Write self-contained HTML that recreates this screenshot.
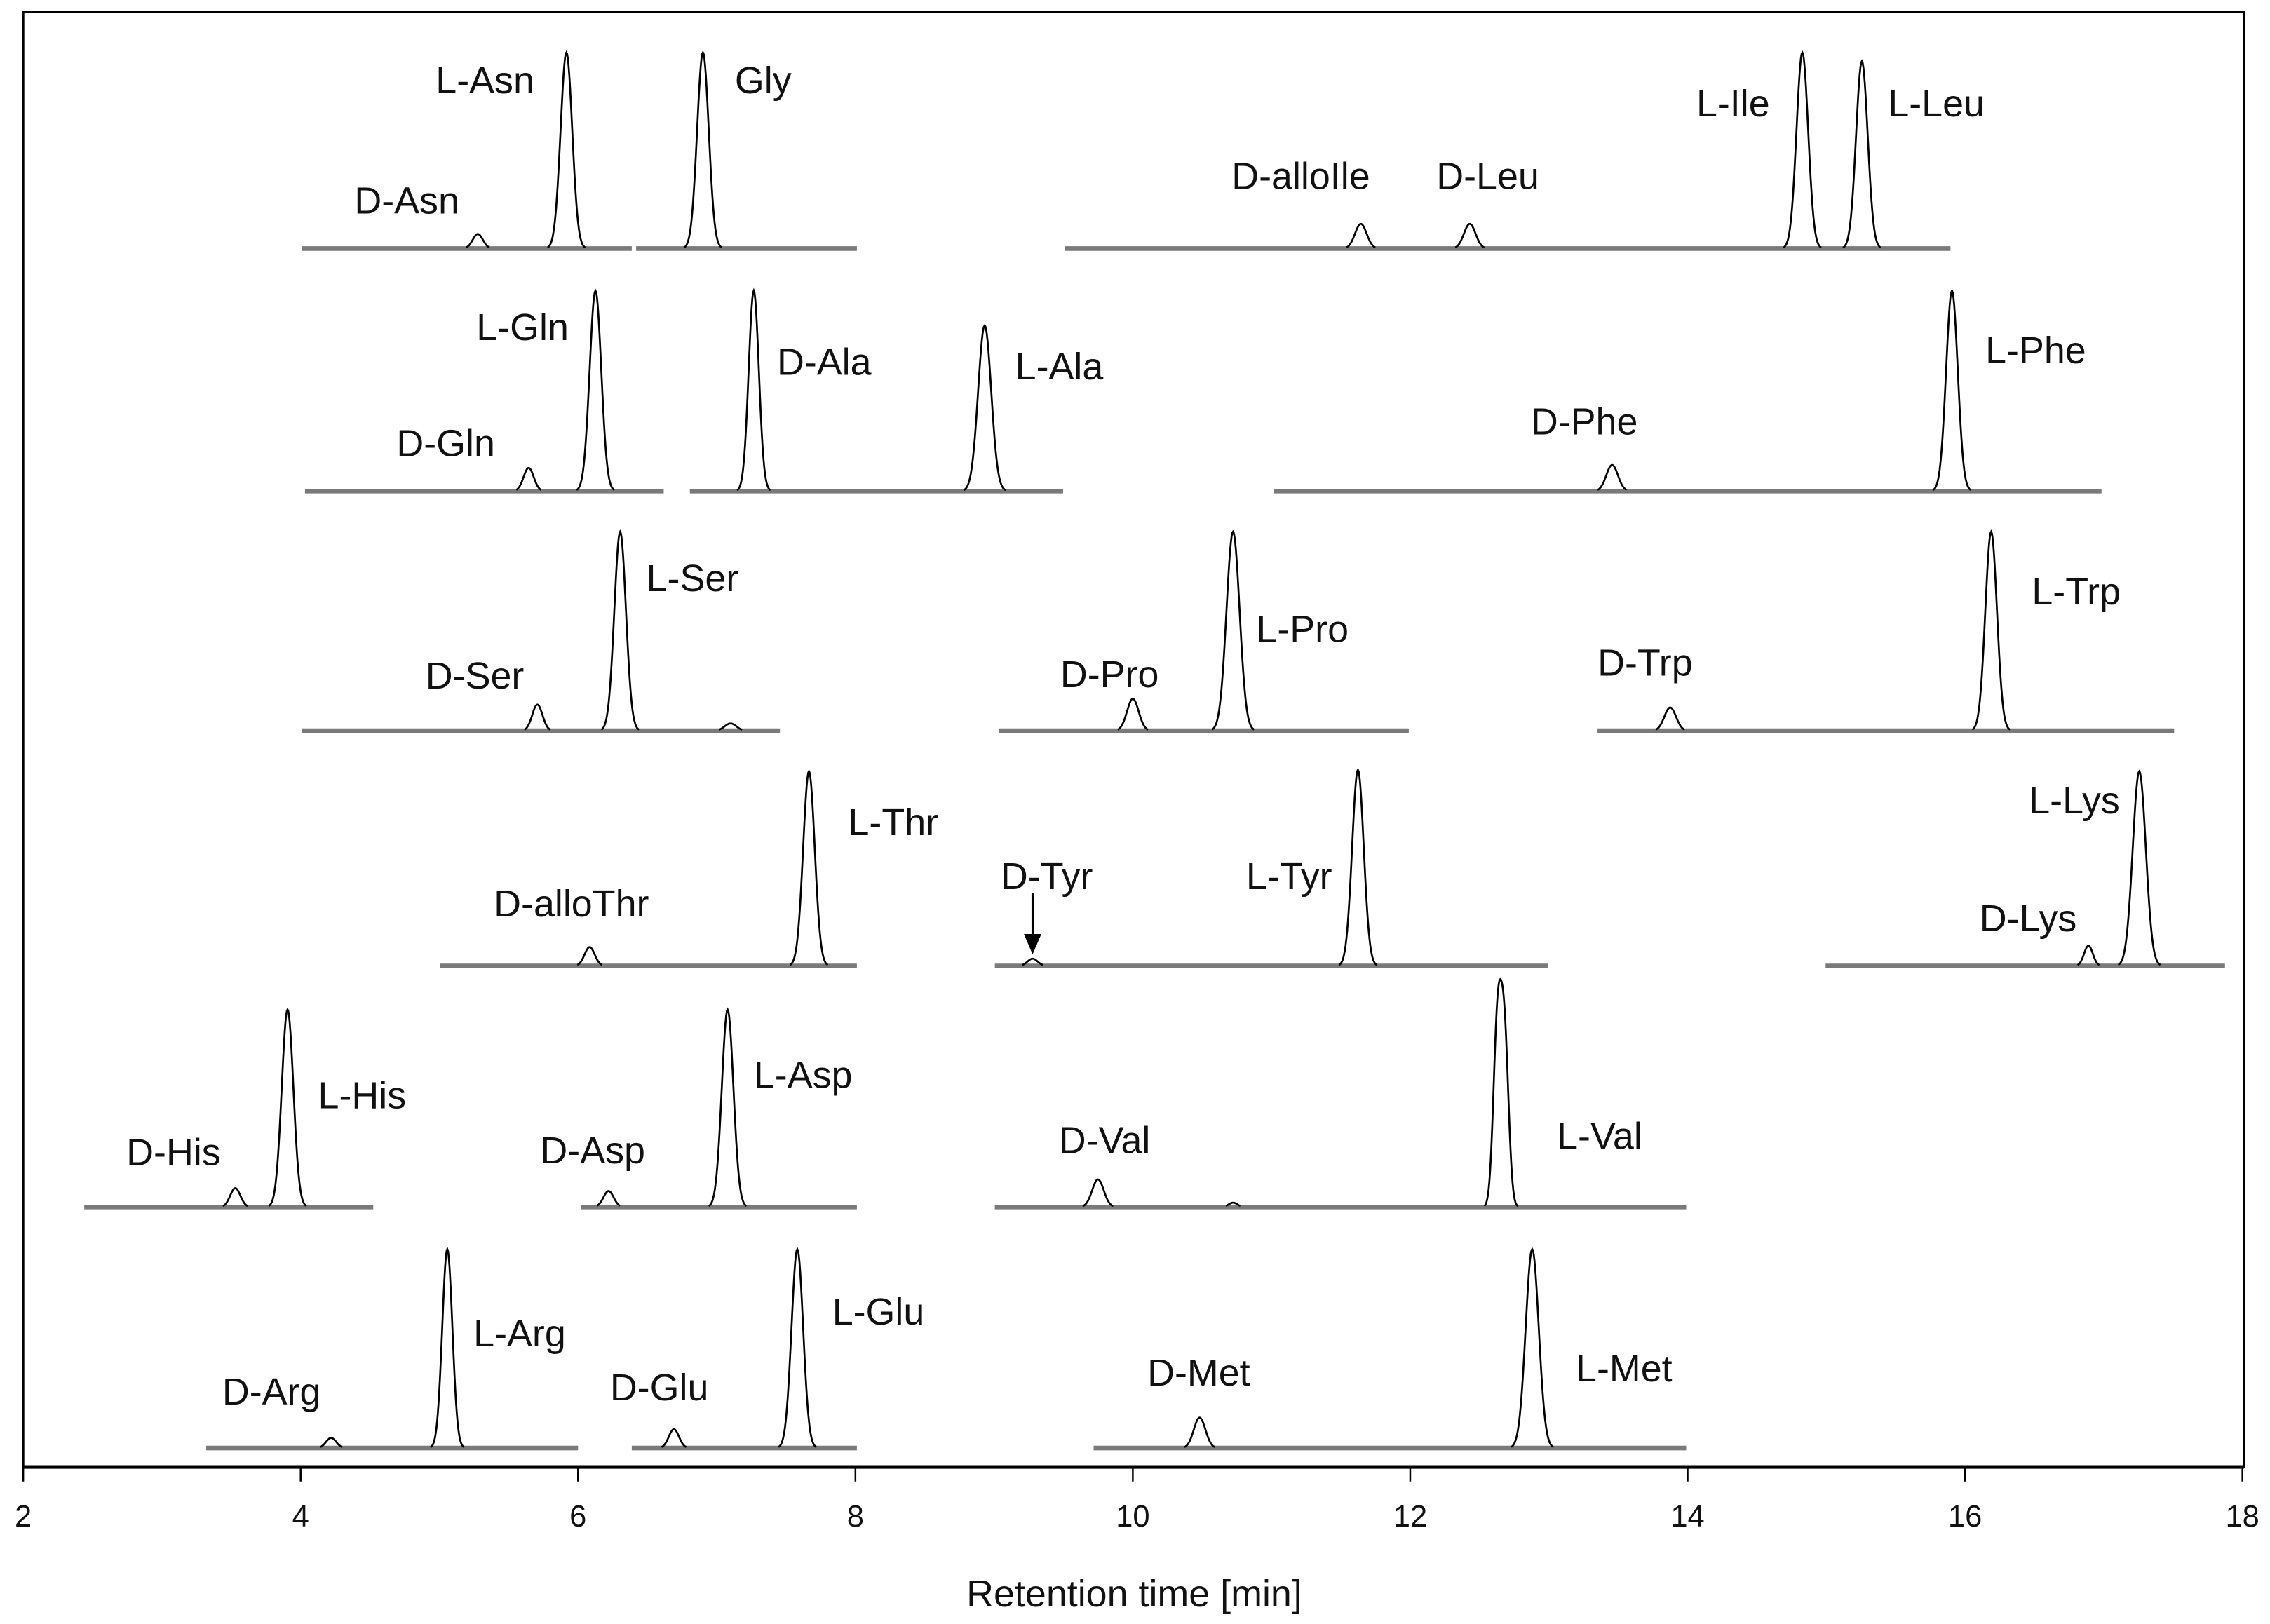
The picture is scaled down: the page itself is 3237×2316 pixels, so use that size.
<!DOCTYPE html>
<html><head><meta charset="utf-8"><style>
html,body{margin:0;padding:0;background:#fff;}
svg{display:block;}
text{font-family:"Liberation Sans",sans-serif;font-size:26px;fill:#111;}
.t{font-size:21px;text-anchor:middle;}
</style></head><body>
<svg id="s" width="3237" height="2316" viewBox="0 0 1563 1118" xmlns="http://www.w3.org/2000/svg">
<rect x="0" y="0" width="1563" height="1118" fill="#fff"/>
<rect x="16" y="8" width="1529" height="1002" fill="none" stroke="#000" stroke-width="1.5"/>
<line x1="16" y1="1010" x2="1545" y2="1010" stroke="#000" stroke-width="2.5"/>
<g id="ticks" stroke="#000" stroke-width="1.2">
<line x1="16" y1="1010" x2="16" y2="1020"/><line x1="207" y1="1010" x2="207" y2="1020"/>
<line x1="398" y1="1010" x2="398" y2="1020"/><line x1="589" y1="1010" x2="589" y2="1020"/>
<line x1="780" y1="1010" x2="780" y2="1020"/><line x1="971" y1="1010" x2="971" y2="1020"/>
<line x1="1162" y1="1010" x2="1162" y2="1020"/><line x1="1353" y1="1010" x2="1353" y2="1020"/>
<line x1="1544" y1="1010" x2="1544" y2="1020"/>
</g>
<text class="t" x="16" y="1051">2</text><text class="t" x="207" y="1051">4</text>
<text class="t" x="398" y="1051">6</text><text class="t" x="589" y="1051">8</text>
<text class="t" x="780" y="1051">10</text><text class="t" x="971" y="1051">12</text>
<text class="t" x="1162" y="1051">14</text><text class="t" x="1353" y="1051">16</text>
<text class="t" x="1544" y="1051">18</text>
<text x="781" y="1106" style="text-anchor:middle;font-size:26px">Retention time [min]</text>
<g id="traces"></g>
<line x1="711" y1="615" x2="711" y2="645" stroke="#000" stroke-width="1.5"/>
<polygon points="705,643 717,643 711,657" fill="#000"/>
<text x="300" y="64">L-Asn</text><text x="244" y="147">D-Asn</text><text x="506" y="64">Gly</text>
<text x="848" y="130">D-alloIle</text><text x="989" y="130">D-Leu</text>
<text x="1168" y="80">L-Ile</text><text x="1300" y="80">L-Leu</text>
<text x="328" y="234">L-Gln</text><text x="273" y="314">D-Gln</text><text x="535" y="258">D-Ala</text>
<text x="699" y="261">L-Ala</text><text x="1054" y="299">D-Phe</text><text x="1367" y="250">L-Phe</text>
<text x="293" y="474">D-Ser</text><text x="445" y="407">L-Ser</text><text x="730" y="473">D-Pro</text>
<text x="865" y="442">L-Pro</text><text x="1100" y="465">D-Trp</text><text x="1399" y="416">L-Trp</text>
<text x="340" y="631">D-alloThr</text><text x="584" y="575">L-Thr</text><text x="689" y="612">D-Tyr</text>
<text x="858" y="612">L-Tyr</text><text x="1397" y="560">L-Lys</text><text x="1363" y="641">D-Lys</text>
<text x="87" y="802">D-His</text><text x="219" y="763">L-His</text><text x="372" y="801">D-Asp</text>
<text x="519" y="749">L-Asp</text><text x="729" y="794">D-Val</text><text x="1072" y="791">L-Val</text>
<text x="153" y="967">D-Arg</text><text x="326" y="927">L-Arg</text><text x="420" y="964">D-Glu</text>
<text x="573" y="912">L-Glu</text><text x="790" y="954">D-Met</text><text x="1085" y="951">L-Met</text>
</svg>
<script>
var segs=[
[171,208,435,[[329,10,3.5],[390,135,4]]],
[171,438,590,[[484,135,4]]],
[171,733,1343,[[937,17,4],[1012,17,4],[1241,135,4],[1282,129,4]]],
[338,210,457,[[364,16,3.5],[410,138,4]]],
[338,475,732,[[519,138,3.5],[678,114,4.5]]],
[338,877,1447,[[1110,18,4],[1344,138,4]]],
[503,208,537,[[370,18,3.5],[427,137,4],[503,5,4]]],
[503,688,970,[[780,22,4],[849,137,4.5]]],
[503,1100,1497,[[1150,16,4],[1371,137,4]]],
[665,303,590,[[406,13,3.5],[557,134,4]]],
[665,685,1066,[[711,5,3.5],[935,135,4]]],
[665,1257,1532,[[1438,14,3],[1473,134,4.5]]],
[831,58,257,[[162,13,3.5],[198,136,4]]],
[831,400,590,[[419,11,3.5],[501,136,4]]],
[831,685,1161,[[756,19,4],[849,3,3],[1031,121,2.8],[1036,112,2.8]]],
[997,142,398,[[228,7,3.5],[308,137,3.5]]],
[997,435,590,[[464,13,3.5],[549,137,4]]],
[997,753,1161,[[826,21,4],[1055,137,4.5]]]
];
var g=document.getElementById('traces'),h='';
segs.forEach(function(s){
 var y0=s[0],a=s[1],b=s[2],pk=s[3];
 h+='<line x1="'+a+'" y1="'+y0+'" x2="'+b+'" y2="'+y0+'" stroke="#7a7a7a" stroke-width="3.2"/>';
 var d='',on=false;
 for(var x=a;x<=b;x+=0.5){var y=y0;pk.forEach(function(p){y-=p[1]*Math.exp(-Math.pow((x-p[0])/p[2],2)/2);});
  if(y0-y>0.6){d+=(on?'L':'M')+x.toFixed(1)+' '+y.toFixed(2);on=true;}else{on=false;}}
 h+='<path d="'+d+'" fill="none" stroke="#000" stroke-width="1.3"/>';
});
g.innerHTML=h;
</script>
</body></html>
